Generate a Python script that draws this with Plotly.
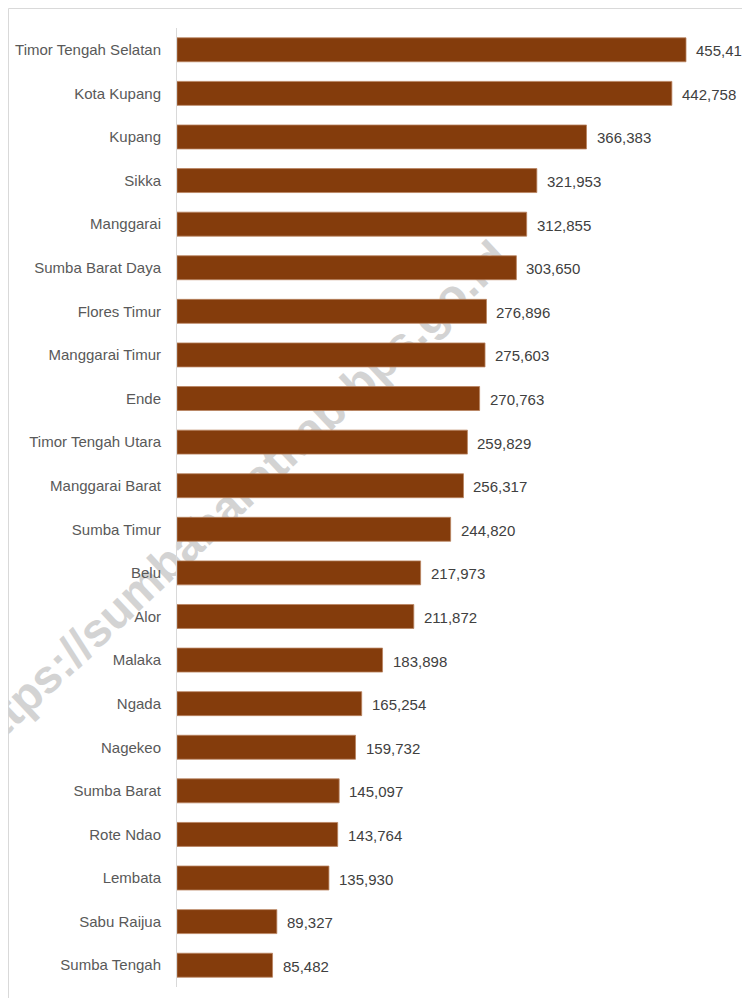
import plotly.graph_objects as go

categories = [
    "Timor Tengah Selatan", "Kota Kupang", "Kupang", "Sikka", "Manggarai",
    "Sumba Barat Daya", "Flores Timur", "Manggarai Timur", "Ende",
    "Timor Tengah Utara", "Manggarai Barat", "Sumba Timur", "Belu", "Alor",
    "Malaka", "Ngada", "Nagekeo", "Sumba Barat", "Rote Ndao", "Lembata",
    "Sabu Raijua", "Sumba Tengah",
]
values = [
    455410, 442758, 366383, 321953, 312855, 303650, 276896, 275603, 270763,
    259829, 256317, 244820, 217973, 211872, 183898, 165254, 159732, 145097,
    143764, 135930, 89327, 85482,
]
watermark = "https://sumbabaratkab.bps.go.id"

FONT = "Liberation Sans, Arial, sans-serif"
BAR = "#843C0C"

OFF = 8  # default body margin of the page
W, H = 750, 1006 - 2 * OFF
ML = 177 - OFF
MT = 28 - OFF
PLOT_BOTTOM = 987 - OFF
MB = H - PLOT_BOTTOM
MR = 18
pw = W - ML - MR
ph = H - MT - MB
xmax = pw / (509 / 455410)


def px(x_page):
    return (x_page - OFF - ML) / pw


def py(y_page):
    return (PLOT_BOTTOM - (y_page - OFF)) / ph


fig = go.Figure()
fig.add_trace(go.Bar(
    x=values, y=categories, orientation="h",
    marker=dict(color=BAR, line=dict(color="#B9835F", width=0.8)),
    hoverinfo="skip",
))

for v, c in zip(values, categories):
    fig.add_annotation(
        x=v, y=c, xref="x", yref="y", text=f"{v:,}", showarrow=False,
        xanchor="left", xshift=8, yshift=-1,
        font=dict(family=FONT, size=15, color="#404040"),
    )

# chart border (left / top)
fig.add_shape(type="rect", xref="paper", yref="paper",
              x0=px(OFF + 0.5), x1=px(800), y0=py(1060), y1=py(OFF + 0.5),
              line=dict(color="#D9D9D9", width=1), fillcolor="rgba(0,0,0,0)",
              layer="below")

# watermark behind bars
fig.add_shape(type="line", xref="paper", yref="paper",
              x0=px(-30), y0=py(742), x1=px(496), y1=py(248),
              line=dict(color="rgba(0,0,0,0)", width=0),
              layer="below",
              label=dict(text=watermark, textposition="middle",
                         textangle=-43.2, yanchor="middle", padding=0,
                         font=dict(family="Liberation Sans, Arial, sans-serif",
                                   size=47, color="#D3D3D3", weight="bold")))

fig.update_layout(
    width=W, height=H,
    margin=dict(l=ML, r=MR, t=MT, b=MB, pad=0, autoexpand=False),
    paper_bgcolor="white", plot_bgcolor="rgba(0,0,0,0)",
    bargap=0.45, showlegend=False,
    xaxis=dict(range=[0, xmax], visible=False, fixedrange=True),
    yaxis=dict(
        categoryorder="array", categoryarray=categories,
        autorange="reversed", showline=True, linecolor="#D9D9D9", linewidth=1,
        showgrid=False, ticks="outside", ticklen=12,
        tickcolor="rgba(0,0,0,0)", automargin=False,
        tickfont=dict(family=FONT, size=15, color="#595959"),
        fixedrange=True,
    ),
)

fig.write_html("out.html")
